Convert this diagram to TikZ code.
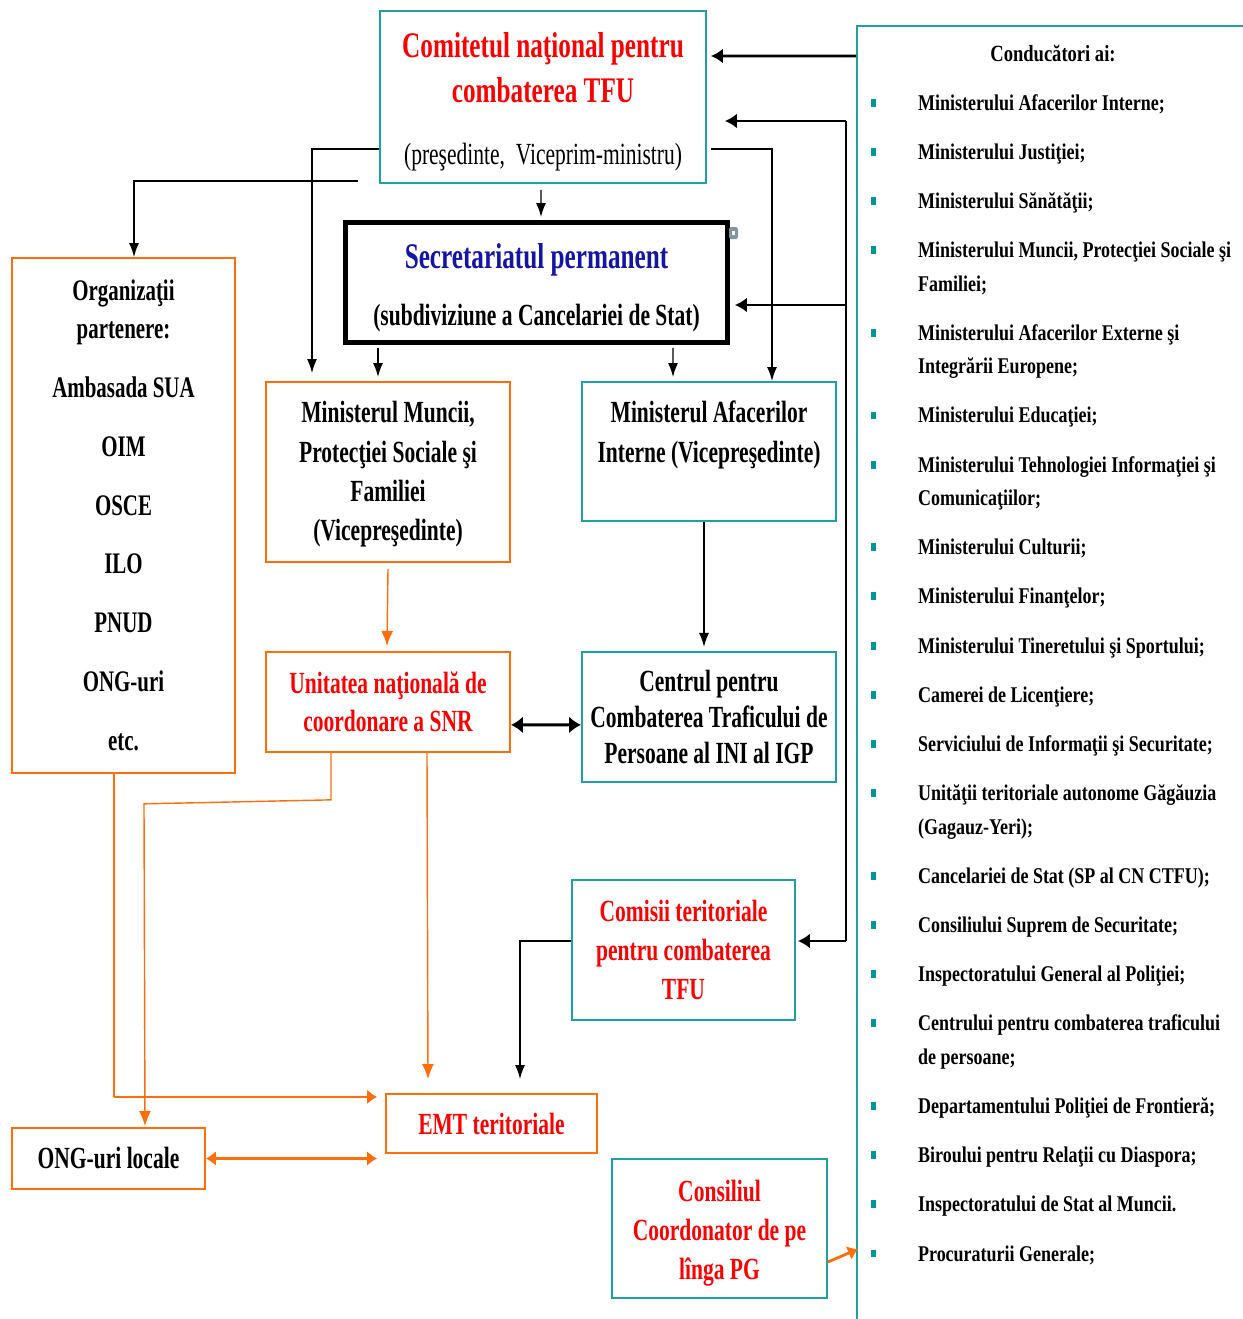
\documentclass[tikz,border=0pt]{standalone}
\usepackage{fontspec}
\setmainfont{Liberation Serif}[FakeStretch=0.7]
\newfontfamily\leadfont{Liberation Serif}[FakeStretch=0.8]
\usetikzlibrary{arrows.meta, positioning, calc}
\definecolor{boxteal}{RGB}{30,160,160}
\definecolor{boxorange}{RGB}{255,110,10}
\definecolor{titlered}{RGB}{250,0,0}
\definecolor{titleblue}{RGB}{20,20,165}
\definecolor{bulletteal}{RGB}{0,150,150}
\definecolor{gripgray}{RGB}{130,150,160}
\newcommand{\lbul}{\makebox[26.6pt][l]{\textcolor{bulletteal}{\rule[2pt]{2.8pt}{4.5pt}}}}
\newcommand{\lind}{\hspace*{26.6pt}}

\begin{document}
\begin{tikzpicture}[
  x=0.02cm, y=-0.02cm,
  box/.style={draw, line width=1.1pt, align=center, inner sep=2pt, font=\fontsize{17.5}{22.4}\selectfont\bfseries},
  tealbox/.style={box, draw=boxteal},
  orangebox/.style={box, draw=boxorange},
  spbox/.style={box, line width=2.8pt},
  link/.style={-{Latex[length=2.8mm,width=2mm]}, line width=0.8pt},
  boldlink/.style={-{Latex[length=2.4mm,width=3mm]}, line width=1.6pt},
  twolink/.style={{Latex[length=2.4mm,width=3.4mm]}-{Latex[length=2.4mm,width=3.4mm]}, line width=1.6pt},
  oline/.style={boxorange, line width=0.8pt},
  olink/.style={oline, -{Latex[length=3mm,width=2.4mm]}},
  oboldlink/.style={boxorange, line width=1.6pt, -{Latex[length=2mm,width=3mm]}},
  otwolink/.style={boxorange, line width=1.6pt, {Latex[length=2mm,width=3mm]}-{Latex[length=2mm,width=3mm]}},
  leaditem/.style={anchor=north west, align=left, inner sep=0pt, font=\leadfont\fontsize{12.8}{19}\selectfont\bfseries},
]
\useasboundingbox (0,0) rectangle (1243,1319);

\node[draw=boxteal, line width=1.1pt, anchor=north west, inner sep=0pt, minimum width=8cm, minimum height=26.5cm] (lead) at (856,25) {};
\node[font=\leadfont\fontsize{13.2}{15}\selectfont\bfseries] (leadtitle) at (1053,53) {Conducători ai:};
\node[leaditem] (leadlist) at (871,94) {%
\lbul Ministerului Afacerilor Interne;\\[9pt]
\lbul Ministerului Justiţiei;\\[9pt]
\lbul Ministerului Sănătăţii;\\[9pt]
\lbul Ministerului Muncii, Protecţiei Sociale şi\\
\lind Familiei;\\[9pt]
\lbul Ministerului Afacerilor Externe şi\\
\lind Integrării Europene;\\[9pt]
\lbul Ministerului Educaţiei;\\[9pt]
\lbul Ministerului Tehnologiei Informaţiei şi\\
\lind Comunicaţiilor;\\[9pt]
\lbul Ministerului Culturii;\\[9pt]
\lbul Ministerului Finanţelor;\\[9pt]
\lbul Ministerului Tineretului şi Sportului;\\[9pt]
\lbul Camerei de Licenţiere;\\[9pt]
\lbul Serviciului de Informaţii şi Securitate;\\[9pt]
\lbul Unităţii teritoriale autonome Găgăuzia\\
\lind (Gagauz-Yeri);\\[9pt]
\lbul Cancelariei de Stat (SP al CN CTFU);\\[9pt]
\lbul Consiliului Suprem de Securitate;\\[9pt]
\lbul Inspectoratului General al Poliţiei;\\[9pt]
\lbul Centrului pentru combaterea traficului\\
\lind de persoane;\\[9pt]
\lbul Departamentului Poliţiei de Frontieră;\\[9pt]
\lbul Biroului pentru Relaţii cu Diaspora;\\[9pt]
\lbul Inspectoratului de Stat al Muncii.\\[9pt]
\lbul Procuraturii Generale;};

\node[tealbox, minimum width=6.52cm, minimum height=3.44cm, font=\fontsize{20.5}{25.5}\selectfont\bfseries, text=titlered] (cnc) at (543,97)
  {\rule{0pt}{19.7pt}Comitetul naţional pentru\\combaterea TFU\\[9.5pt]{\fontsize{17.5}{22}\selectfont\mdseries\color{black}(preşedinte,\ \ Viceprim-ministru)}};
\node[spbox, minimum width=7.64cm, minimum height=2.4cm] (sp) at (536.5,282.5)
  {{\color{titleblue}\fontsize{20.5}{25}\selectfont\rule{0pt}{20pt}Secretariatul permanent}\\[10pt](subdiviziune a Cancelariei de Stat)};
\fill[gripgray, rounded corners=1pt] (729,227) rectangle (738,239);
\fill[white] (732,231) rectangle (735,235);

\node[orangebox, minimum width=4.46cm, minimum height=10.3cm, font=\fontsize{17}{21.5}\selectfont\bfseries] (org) at (123.5,515.5)
  {Organizaţii\\partenere:\\[12pt]Ambasada SUA\\[12pt]OIM\\[12pt]OSCE\\[12pt]ILO\\[12pt]PNUD\\[12pt]ONG-uri\\[12pt]etc.};
\node[orangebox, minimum width=4.88cm, minimum height=3.6cm] (mm) at (388,472)
  {\rule{0pt}{15pt}Ministerul Muncii,\\Protecţiei Sociale şi\\Familiei\\(Vicepreşedinte)};
\node[tealbox, minimum width=5.08cm, minimum height=2.78cm] (mai) at (709,451.5)
  {Ministerul Afacerilor\\Interne (Vicepreşedinte)\\\mbox{}};
\node[orangebox, minimum width=4.88cm, minimum height=2cm, text=titlered, below=1.76cm of mm] (unc)
  {Unitatea naţională de\\[-1pt]coordonare a SNR};
\node[tealbox, minimum width=5.08cm, minimum height=2.6cm, below=2.58cm of mai] (ctp)
  {Centrul pentru\\[-2pt]Combaterea Traficului de\\[-2pt]Persoane al INI al IGP};
\node[tealbox, minimum width=4.46cm, minimum height=2.8cm, text=titlered] (cte) at (683.5,950)
  {Comisii teritoriale\\pentru combaterea\\TFU};
\node[orangebox, minimum width=4.22cm, minimum height=1.18cm, text=titlered] (emt) at (491.5,1123.5) {EMT teritoriale};
\node[orangebox, minimum width=3.86cm, minimum height=1.22cm] (ong) at (108.5,1158.5) {ONG-uri locale};
\node[tealbox, minimum width=4.3cm, minimum height=2.78cm, text=titlered] (ccpg) at (719.5,1228.5)
  {\rule{0pt}{17.5pt}Consiliul\\Coordonator de pe\\lînga PG};

\draw[boldlink] ([yshift=-0.62cm]lead.north west) -- ($(cnc.east |- 0,56)+(4,0)$);

\coordinate (busT) at (846,121);
\coordinate (busB) at (846,941);
\draw[line width=0.8pt] (busT) -- (busB);
\draw[boldlink] (busT) -- ($(cnc.east |- busT)+(18,0)$);
\draw[boldlink] (busT |- 0,305) -- ($(sp.east |- 0,305)+(5,0)$);
\draw[boldlink] (busB) -- ($(cte.east |- busB)+(2,0)$);

\draw[link] ($(cnc.east |- 0,149)+(4,0)$) -| ($(mai.north)+(63,0)$);
\draw[link] (cnc.west |- 0,149) -| ($(mm.north)+(-76,-8)$);
\coordinate (orgfork) at (358,181);
\draw[link] (orgfork) -| ($(org.north)+(10.5,0)$);
\draw[link] ($(cnc.south)+(-2,6)$) -- ($(sp.north)+(4.5,-3)$);
\draw[link] ($(sp.south)+(-158.5,3)$) -- ($(mm.north)+(-10,-4)$);
\draw[link] ($(sp.south)+(136.5,3)$) -- ($(mai.north)+(-36,-4)$);

\draw[olink] ($(mm.south)+(0,6)$) -- ($(unc.north)+(-1,-5)$);
\draw[link] ($(mai.south)+(-5,0)$) -- ($(ctp.north)+(-5,-4)$);
\draw[twolink] ($(unc.east)+(0,23)$) -- ($(ctp.west)+(0,8)$);

\draw[olink] ($(unc.south)+(-57,0)$) -- ++(0,47) -- ++(-187,4) -- ($(ong.north)+(36.5,-1)$);
\draw[olink] ($(unc.south)+(39,0)$) -- ($(emt.north)+(-63.5,-14)$);
\coordinate (orgbend) at ($(org.south)+(-9.5,323)$);
\draw[oline] ($(org.south)+(-9.5,0)$) -- (orgbend);
\draw[oboldlink] (orgbend) -- ($(emt.west |- orgbend)+(-8,0)$);
\draw[otwolink] (ong.east) -- ($(emt.west |- ong.east)+(-8,0)$);
\draw[link] ($(cte.west)+(0,-9)$) -| ($(emt.north)+(28.5,-14)$);
\draw[oboldlink] ($(ccpg.east)+(0,33.5)$) -- ($(lead.west |- 0,1249)+(2,0)$);
\end{tikzpicture}
\end{document}
